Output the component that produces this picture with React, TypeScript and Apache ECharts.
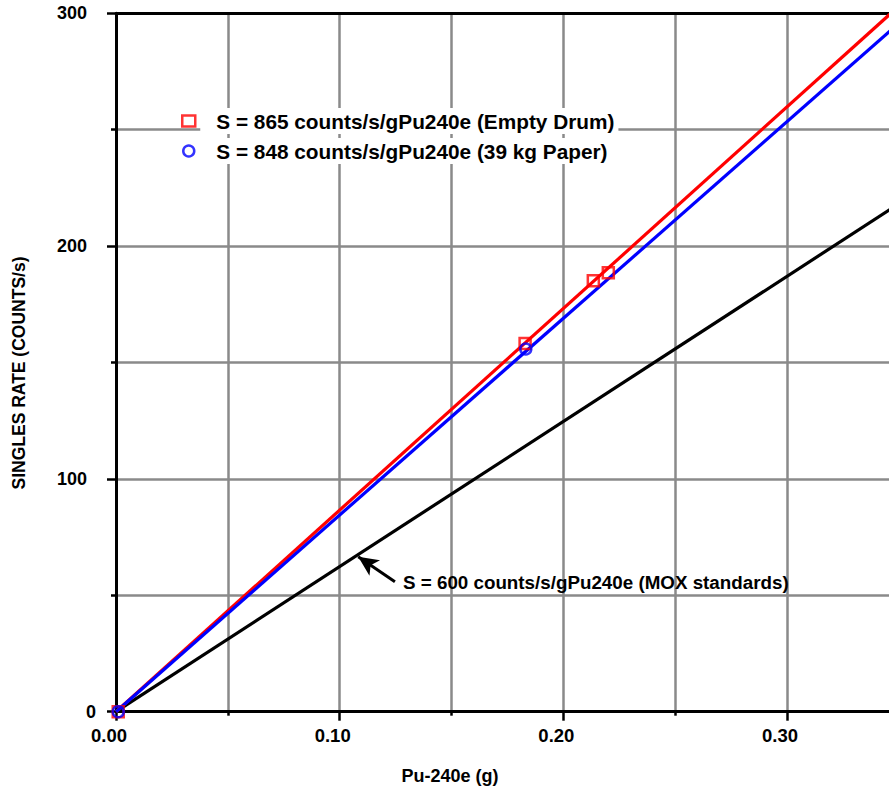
import React, { useEffect, useRef } from 'react';
import * as echarts from 'echarts';

// ---- data ----
const emptyDrumPoints: number[][] = [
  [0.001, 0],
  [0.1829, 158.2],
  [0.2134, 185.1],
  [0.2201, 188.6],
];
const paperPoints: number[][] = [
  [0.001, 0],
  [0.1832, 155.8],
];
const emptyDrumFit: number[][] = [[0, 0], [0.35, 303.1]];
const paperFit: number[][] = [[0, 0], [0.35, 295.7]];
const moxFit: number[][] = [[0, 0], [0.35, 218.2]];
const arrowFrom: number[] = [0.1247, 55.8];
const arrowTo: number[] = [0.1083, 66.6];
const xLabelLimit = 0.3; // last tick label visible in the reference

const legendNames: string[] = [
  'S = 865 counts/s/gPu240e (Empty Drum)',
  'S = 848 counts/s/gPu240e (39 kg Paper)',
];
const moxLabel = 'S = 600 counts/s/gPu240e (MOX standards)';
const xTitle = 'Pu-240e (g)';
const yTitle = 'SINGLES RATE (COUNTS/s)';

const FONT = "'Liberation Sans', Arial, Helvetica, sans-serif";
const RED = '#ff0000';
const BLUE = '#0000ff';
const GRID_GRAY = '#8a8a8a';

export default function App() {
  const ref = useRef<HTMLDivElement>(null);

  useEffect(() => {
    if (!ref.current) return;
    const chart = echarts.init(ref.current, null, { renderer: 'svg' });

    const axisLineStyle = { color: '#000', width: 3 };
    const gridLine = { show: true, lineStyle: { color: GRID_GRAY, width: 2.5 } };

    chart.setOption({
      animation: false,
      backgroundColor: '#fff',
      textStyle: { fontFamily: FONT },
      grid: { left: 116, top: 13.3, width: 894.7, height: 698.4, containLabel: false },
      xAxis: [
        {
          type: 'value',
          min: 0,
          max: 0.4,
          interval: 0.1,
          axisLine: { show: true, onZero: false, lineStyle: axisLineStyle },
          axisTick: { show: true, length: 9, lineStyle: { color: '#000', width: 2.5 } },
          minorTick: { show: true, splitNumber: 2, length: 4, lineStyle: { color: '#000', width: 2.5 } },
          splitLine: gridLine,
          minorSplitLine: gridLine,
          axisLabel: {
            margin: 14,
            formatter: (v: number) => (v > xLabelLimit + 1e-9 ? '' : `{a|${v.toFixed(2)}}`),
            rich: {
              a: {
                fontFamily: FONT,
                fontSize: 18.5,
                fontWeight: 'bold',
                color: '#000',
                padding: [0, 14, 0, 0],
              },
            },
          },
        },
        {
          type: 'value',
          position: 'top',
          min: 0,
          max: 0.4,
          interval: 0.1,
          axisLine: { show: true, onZero: false, lineStyle: axisLineStyle },
          axisTick: { show: false },
          axisLabel: { show: false },
          splitLine: { show: false },
        },
      ],
      yAxis: {
        type: 'value',
        min: 0,
        max: 300,
        interval: 100,
        axisLine: { show: true, onZero: false, lineStyle: axisLineStyle },
        axisTick: { show: true, length: 9, lineStyle: { color: '#000', width: 2.5 } },
        minorTick: { show: true, splitNumber: 2, length: 5, lineStyle: { color: '#000', width: 2.5 } },
        splitLine: gridLine,
        minorSplitLine: gridLine,
        axisLabel: {
          margin: 20,
          formatter: (v: number) => (v === 0 ? `{z|0}` : `{a|${v}}`),
          rich: {
            a: { fontFamily: FONT, fontSize: 18, fontWeight: 'bold', color: '#000', padding: [0, 9, 0, 0] },
            z: { fontFamily: FONT, fontSize: 18, fontWeight: 'bold', color: '#000' },
          },
        },
      },
      legend: {
        show: true,
        orient: 'vertical',
        left: 181,
        top: 108,
        padding: 0,
        itemGap: 4,
        itemWidth: 13,
        itemHeight: 11,
        selectedMode: false,
        textStyle: {
          fontFamily: FONT,
          fontSize: 20.8,
          fontWeight: 'bold',
          color: '#000',
          backgroundColor: '#fff',
          padding: [2, 4, 2, 16],
          lineHeight: 22,
        },
        data: [
          {
            name: legendNames[0],
            icon: 'rect',
            itemStyle: { color: 'transparent', borderColor: RED, borderWidth: 2.5 },
          },
          {
            name: legendNames[1],
            icon: 'circle',
            itemStyle: { color: 'transparent', borderColor: BLUE, borderWidth: 2.5 },
          },
        ],
      },
      series: [
        {
          type: 'line',
          name: 'mox-fit',
          data: moxFit,
          showSymbol: false,
          symbol: 'none',
          lineStyle: { color: '#000', width: 3.2 },
          clip: true,
          z: 2,
          markLine: {
            silent: true,
            symbol: ['none', 'arrow'],
            symbolSize: [14, 20],
            label: { show: false },
            lineStyle: { color: '#000', width: 3, type: 'solid' },
            data: [[{ coord: arrowFrom }, { coord: arrowTo }]],
          },
        },
        {
          type: 'line',
          name: 'drum-fit',
          data: emptyDrumFit,
          showSymbol: false,
          symbol: 'none',
          lineStyle: { color: RED, width: 3.2 },
          clip: true,
          z: 3,
        },
        {
          type: 'line',
          name: 'paper-fit',
          data: paperFit,
          showSymbol: false,
          symbol: 'none',
          lineStyle: { color: BLUE, width: 3.2 },
          clip: true,
          z: 4,
        },
        {
          type: 'scatter',
          name: legendNames[0],
          data: emptyDrumPoints,
          symbol: 'rect',
          symbolSize: 11,
          itemStyle: { color: 'transparent', borderColor: RED, borderWidth: 2.5 },
          z: 5,
        },
        {
          type: 'scatter',
          name: legendNames[1],
          data: paperPoints,
          symbol: 'circle',
          symbolSize: 11,
          itemStyle: { color: 'transparent', borderColor: BLUE, borderWidth: 2.5 },
          z: 6,
        },
      ],
      graphic: [
        {
          type: 'text',
          x: 403,
          y: 582,
          z: 10,
          style: {
            text: moxLabel,
            fontFamily: FONT,
            fontSize: 18.8,
            fontWeight: 'bold',
            fill: '#000',
            textAlign: 'left',
            textVerticalAlign: 'middle',
          },
        },
        {
          type: 'text',
          x: 450,
          y: 776,
          style: {
            text: xTitle,
            fontFamily: FONT,
            fontSize: 18,
            fontWeight: 'bold',
            fill: '#000',
            textAlign: 'center',
            textVerticalAlign: 'middle',
          },
        },
        {
          type: 'text',
          x: 19,
          y: 373,
          rotation: Math.PI / 2,
          style: {
            text: yTitle,
            fontFamily: FONT,
            fontSize: 17.5,
            fontWeight: 'bold',
            fill: '#000',
            textAlign: 'center',
            textVerticalAlign: 'middle',
          },
        },
      ],
    });

    return () => chart.dispose();
  }, []);

  return (
    <div
      style={{
        position: 'fixed',
        left: 0,
        top: 0,
        width: 889,
        height: 791,
        overflow: 'hidden',
        background: '#fff',
      }}
    >
      <div ref={ref} style={{ width: 1030, height: 791 }} />
    </div>
  );
}
